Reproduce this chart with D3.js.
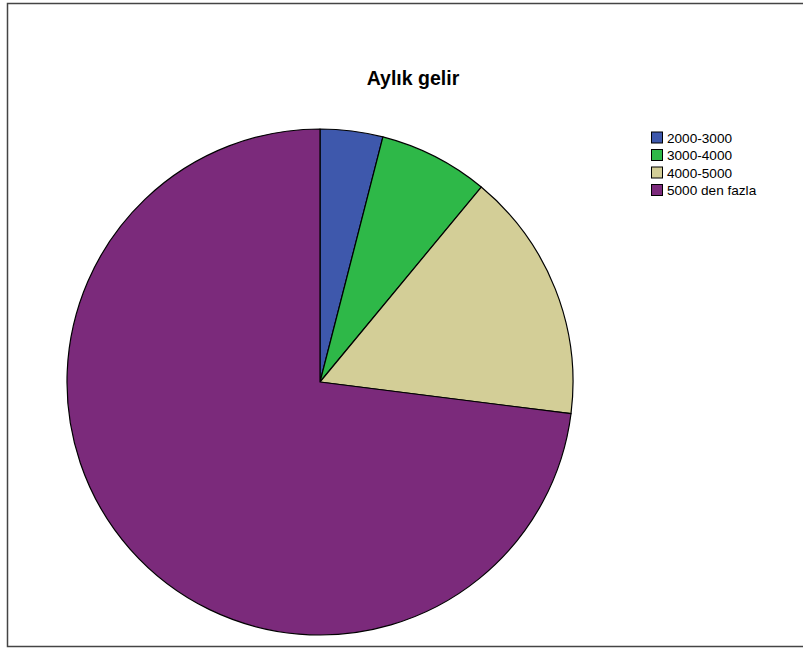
<!DOCTYPE html>
<html><head><meta charset="utf-8">
<script src="https://cdn.jsdelivr.net/npm/d3@7"></script>
<style>body{margin:0;background:#fff}svg{display:block}</style>
</head><body>
<script>
const categories = ["2000-3000", "3000-4000", "4000-5000", "5000 den fazla"];
const values = [4, 7, 16, 73];
const colors = ["#3E58AC", "#2EB848", "#D3CE97", "#7B2A7B"];
const title = "Aylık gelir";

const W = 803, H = 648;
const svg = d3.select("body").append("svg").attr("width", W).attr("height", H);
svg.append("rect").attr("width", W).attr("height", H).attr("fill", "#fff");
svg.append("rect").attr("x", 7.5).attr("y", 3.5).attr("width", 800).attr("height", 643)
  .attr("fill", "none").attr("stroke", "#444").attr("stroke-width", 1.5);

svg.append("text").attr("x", 413).attr("y", 85).attr("text-anchor", "middle")
  .attr("font-family", "Liberation Sans, Arial, sans-serif").attr("font-weight", "bold")
  .attr("font-size", 19.5).attr("fill", "#000").text(title);

const cx = 320, cy = 382, r = 253;
const pie = d3.pie().sort(null).value(d => d)(values);
const arc = d3.arc().innerRadius(0).outerRadius(r);
const g = svg.append("g").attr("transform", `translate(${cx},${cy})`);
g.selectAll("path").data(pie).join("path")
  .attr("d", arc).attr("fill", (d, i) => colors[i])
  .attr("stroke", "#000").attr("stroke-width", 1.2).attr("stroke-linejoin", "round");

const color = d3.scaleOrdinal().domain(categories).range(colors);
const y = d3.scaleBand().domain(categories).range([129, 199]);
const lg = svg.append("g");
const rows = lg.selectAll("g").data(categories).join("g")
  .attr("transform", d => `translate(651,${y(d)})`);
rows.append("rect").attr("x", 0.5).attr("y", 3).attr("width", 11).attr("height", 11)
  .attr("fill", d => color(d)).attr("stroke", "#000").attr("stroke-width", 1);
rows.append("text").attr("x", 16).attr("y", 13.5).attr("font-family", "Liberation Sans, Arial, sans-serif")
  .attr("font-size", 13.6).attr("fill", "#000").text(d => d);
</script>
</body></html>
